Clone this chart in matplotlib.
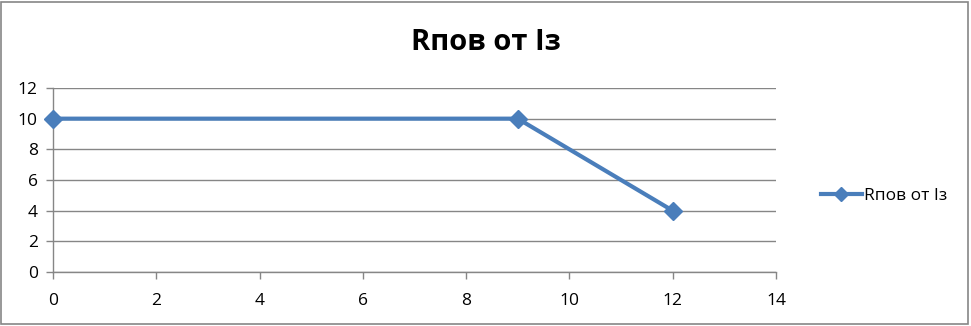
import matplotlib
matplotlib.use("Agg")
import matplotlib.pyplot as plt
from matplotlib.patches import Rectangle

x_values = [0, 9, 12]
y_values = [10, 10, 4]
series_name = "Rпов от Iз"
title = "Rпов от Iз"
x_ticks = [0, 2, 4, 6, 8, 10, 12, 14]
y_ticks = [0, 2, 4, 6, 8, 10, 12]

plt.rcParams['font.family'] = ['Open Sans', 'DejaVu Sans']

fig = plt.figure(figsize=(9.71, 3.26), dpi=100)
ax = fig.add_axes([53/971, 1-272/326, (776-53)/971, (272-88)/326])

color = '#4A7EBB'
ax.plot(x_values, y_values, color=color, lw=3, marker='D', markersize=9,
        label=series_name, clip_on=False, zorder=3)

ax.set_xlim(0, 14)
ax.set_ylim(0, 12)
ax.set_xticks(x_ticks)
ax.set_yticks(y_ticks)
ax.tick_params(labelsize=12.5, length=5, color='#868686', width=1)
ax.tick_params(axis='x', pad=10)
ax.tick_params(axis='y', pad=6)
ax.grid(axis='y', color='#868686', lw=1)
ax.set_axisbelow(True)
for s in ['top', 'right']:
    ax.spines[s].set_visible(False)
for s in ['left', 'bottom']:
    ax.spines[s].set_color('#868686')
    ax.spines[s].set_linewidth(1)

fig.text(486/971, 1-42/326, title, ha='center', va='center', fontsize=21, fontweight='bold')

leg = fig.legend(loc='center left', bbox_to_anchor=(805/971, 1-196/326), frameon=False,
                 fontsize=12.5, handlelength=2.4, handletextpad=0.1, markerscale=0.8)

fig.patches.append(Rectangle((0.5/971, 2/326), 967/971, 322/326, transform=fig.transFigure,
                             fill=False, edgecolor='#868686', lw=1.2))

fig.savefig('out.png', dpi=100)
